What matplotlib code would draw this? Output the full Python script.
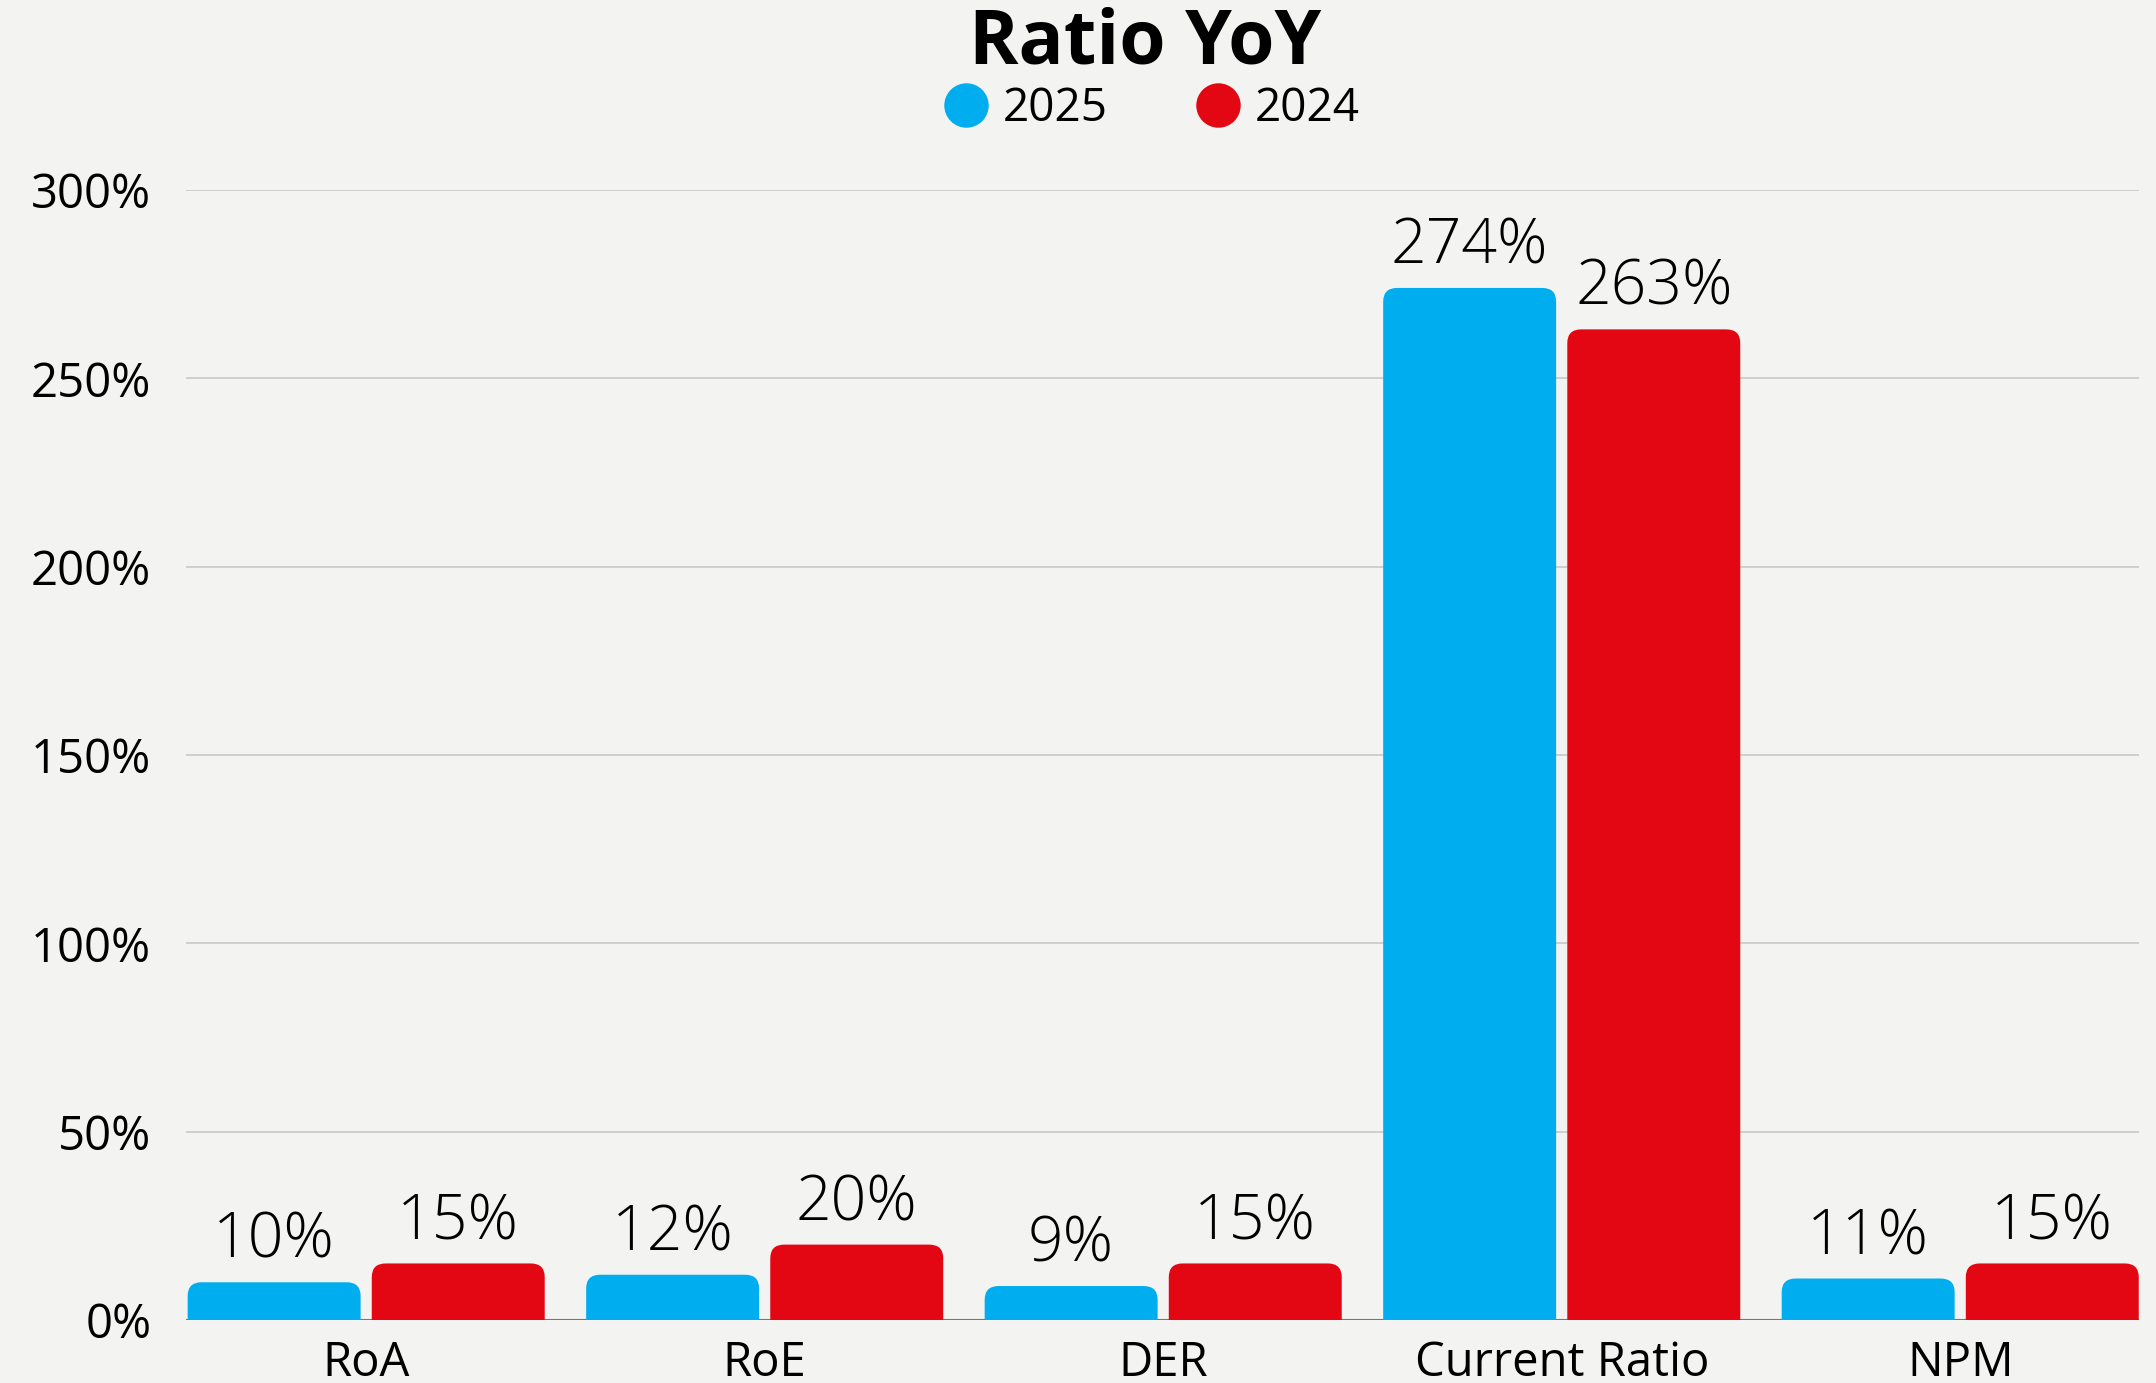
import numpy as np
import matplotlib
matplotlib.use('Agg')
import matplotlib.pyplot as plt
from matplotlib.patches import FancyBboxPatch
from matplotlib.lines import Line2D

# data
categories = ['RoA', 'RoE', 'DER', 'Current Ratio', 'NPM']
values_2025 = [10, 12, 9, 274, 11]
values_2024 = [15, 20, 15, 263, 15]
series_names = ['2025', '2024']
yticks = [0, 50, 100, 150, 200, 250, 300]

blue = '#00aeef'
red = '#e30613'
bg = '#f3f3f1'

plt.rcParams['font.family'] = ['Open Sans', 'DejaVu Sans']

fig = plt.figure(figsize=(21.56, 13.83), dpi=100, facecolor=bg)
ax = fig.add_axes([0.0863, 0.0456, 0.9057, 0.817])
ax.set_facecolor(bg)

x = np.arange(len(categories))
width = 0.434
offset = 0.231

ax.set_xlim(-0.452, len(categories) - 1 + 0.448)
ax.set_ylim(0, 300)

# rounded top corners; bottom gets clipped at the axis
rs = 0.035
aspect = 104
for vals, off, col in [(values_2025, -offset, blue), (values_2024, offset, red)]:
    for xi, v in zip(x, vals):
        p = FancyBboxPatch((xi + off - width / 2, -20), width, v + 20,
                           boxstyle=f'round,pad=0,rounding_size={rs}',
                           mutation_aspect=aspect, facecolor=col,
                           edgecolor='none', zorder=3)
        ax.add_patch(p)
        ax.text(xi + off, v + 2.5, f'{v}%', ha='center', va='bottom',
                fontsize=45, fontweight=300, color='black', clip_on=False)

ax.set_yticks(yticks)
ax.set_yticklabels([f'{t}%' for t in yticks], fontsize=34, fontweight=500)
ax.set_xticks(x)
ax.set_xticklabels(categories, fontsize=34, fontweight=500)
ax.tick_params(axis='both', length=0)
ax.tick_params(axis='y', pad=25)
ax.tick_params(axis='x', pad=14)

ax.grid(axis='y', color='#c8c8c8', linewidth=1.2, zorder=0)
ax.axhline(0, color='#777777', linewidth=1.5, zorder=2)
for s in ax.spines.values():
    s.set_visible(False)

cx = 0.0863 + 0.9057 / 2
fig.text(cx - 0.008, 0.968, 'Ratio YoY', ha='center', va='center',
         fontsize=54, fontweight='bold')

handles = [Line2D([], [], marker='o', linestyle='none', markersize=32,
                  markerfacecolor=c, markeredgecolor='none') for c in (blue, red)]
leg = fig.legend(handles, series_names, loc='center', bbox_to_anchor=(cx - 0.005, 0.921),
                 ncol=2, frameon=False, fontsize=33, handletextpad=0.3,
                 columnspacing=1.9, handlelength=1.0)
for t in leg.get_texts():
    t.set_fontweight(500)

fig.savefig('out.png', dpi=100, facecolor=bg)
